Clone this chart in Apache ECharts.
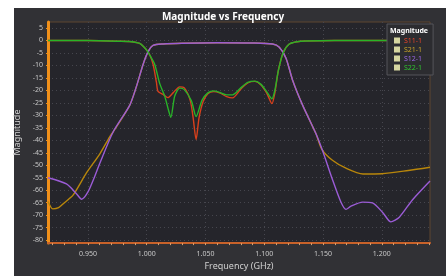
<!DOCTYPE html>
<html>
<head>
<meta charset="utf-8">
<script src="https://cdn.jsdelivr.net/npm/echarts@6/dist/echarts.min.js"></script>
<style>
  html, body { margin: 0; padding: 0; background: #fff; }
  #chart { width: 446px; height: 276px; }
</style>
</head>
<body>
<div id="chart"></div>
<script>
// tick labels
var xTicks = [0.95, 1.0, 1.05, 1.1, 1.15, 1.2];
var xMinorTicks = [0.92, 0.93, 0.94, 0.95, 0.96, 0.97, 0.98, 0.99, 1.0, 1.01, 1.02, 1.03, 1.04, 1.05, 1.06, 1.07, 1.08, 1.09, 1.1, 1.11, 1.12, 1.13, 1.14, 1.15, 1.16, 1.17, 1.18, 1.19, 1.2, 1.21, 1.22, 1.23, 1.24];
var yTicks = [5, 0, -5, -10, -15, -20, -25, -30, -35, -40, -45, -50, -55, -60, -65, -70, -75, -80];

// [frequency GHz, dB]
var s11 = [
    [0.916, 0], [0.94, 0], [0.96, -0.1], [0.975, -0.3], [0.985, -0.4], [0.99, -0.7], [0.994, -1.2],
    [0.997, -2.3], [1.0, -3.9], [1.003, -6.2], [1.0054, -9.6], [1.0082, -16.6], [1.0096, -20.4],
    [1.0139, -21.6], [1.018, -22.9], [1.0224, -21], [1.028, -18.6], [1.032, -19], [1.037, -24],
    [1.0395, -31], [1.042, -39.7], [1.0445, -31], [1.048, -24.5], [1.052, -21.3], [1.057, -20.5],
    [1.062, -21], [1.068, -22.5], [1.073, -23], [1.08, -19.5], [1.086, -17], [1.092, -16.4],
    [1.097, -17.7], [1.102, -21], [1.1065, -25.3], [1.109, -21], [1.112, -12], [1.116, -5],
    [1.121, -1.5], [1.128, -0.5], [1.135, -0.2], [1.16, 0], [1.241, 0]
];
var s21 = [
    [0.916, -64.5], [0.9202, -67.5], [0.925, -67], [0.93, -65], [0.9373, -62], [0.9487, -53.1],
    [0.96, -45.5], [0.9685, -38.6], [0.9717, -36.4], [0.9855, -26], [0.9912, -18.5], [0.9969, -9.6],
    [1.0011, -4.6], [1.0054, -2], [1.014, -1.4], [1.03, -1.1], [1.06, -0.9], [1.09, -1.0],
    [1.107, -1.4], [1.1128, -2.7], [1.1185, -7.1], [1.1241, -15.9], [1.1327, -26], [1.144, -37.4],
    [1.149, -43.6], [1.158, -48], [1.1695, -51.2], [1.184, -53.5], [1.2, -53.4], [1.2225, -52.1],
    [1.241, -50.8]
];
var s12 = [
    [0.916, -55], [0.9317, -57.5], [0.94, -61.3], [0.9446, -63.6], [0.95, -60.7], [0.9558, -54.4],
    [0.96, -49.3], [0.9717, -36.4], [0.9855, -26], [0.9912, -18.5], [0.9969, -9.6], [1.0011, -4.6],
    [1.0054, -2], [1.014, -1.4], [1.03, -1.1], [1.06, -0.9], [1.09, -1.0], [1.107, -1.4],
    [1.1128, -2.7], [1.1185, -7.1], [1.1241, -15.9], [1.1327, -26], [1.144, -37.4], [1.1497, -44.3],
    [1.158, -55.7], [1.165, -64.5], [1.1695, -67.7], [1.1738, -66.4], [1.1837, -64.8], [1.192, -65.1],
    [1.2007, -68.9], [1.2077, -72.7], [1.2149, -70.8], [1.226, -63.9], [1.241, -56.3]
];
var s22 = [
    [0.916, 0], [0.94, 0], [0.96, -0.1], [0.975, -0.3], [0.985, -0.4], [0.99, -0.7], [0.994, -1.2],
    [0.997, -2.3], [1.0, -3.9], [1.003, -6.2], [1.0068, -9.6], [1.011, -17.2], [1.0153, -22.3],
    [1.018, -27], [1.0205, -30.8], [1.0238, -22.3], [1.028, -19.1], [1.032, -19.7], [1.038, -24.2],
    [1.042, -30.5], [1.047, -24], [1.052, -21], [1.057, -20.2], [1.062, -20.8], [1.068, -21.8],
    [1.073, -21.8], [1.08, -19], [1.086, -16.8], [1.092, -16.3], [1.097, -17.5], [1.102, -20.5],
    [1.1065, -23.4], [1.109, -20], [1.112, -12], [1.116, -5], [1.121, -1.5], [1.128, -0.5],
    [1.135, -0.2], [1.16, 0], [1.241, 0]
];

var seriesNames = ['S11-1', 'S21-1', 'S12-1', 'S22-1'];
var lineColors = ['#d8401c', '#b8860b', '#9b5cd6', '#28b428'];
var textColors = ['#e8442a', '#c9a227', '#9a66e6', '#2fc42f'];
var seriesData = [s11, s21, s12, s22];

var myChart = echarts.init(document.getElementById('chart'));
var font = 'Noto Sans';

var option = {
    backgroundColor: '#fff',
    animation: false,
    textStyle: { fontFamily: font },
    graphic: [{
        type: 'rect',
        z: -10,
        shape: { x: 14, y: 8, width: 432, height: 268 },
        style: { fill: '#313135' }
    }],
    title: [{
        text: 'Magnitude vs Frequency',
        left: 'center',
        top: 7,
        textStyle: { color: '#fff', fontSize: 10, fontWeight: 'bold', fontFamily: font }
    }, {
        text: 'Magnitude',
        left: 390,
        top: 27,
        padding: 0,
        textStyle: { color: '#fff', fontSize: 7, fontWeight: 'bold', fontFamily: font }
    }],
    legend: {
        orient: 'vertical',
        left: 387,
        top: 24,
        padding: [13, 11, 4, 7],
        backgroundColor: '#2c2c30',
        borderColor: '#55555a',
        borderWidth: 1,
        itemWidth: 6,
        itemHeight: 6,
        itemGap: 2,
        icon: 'rect',
        textStyle: { fontSize: 7, padding: [0, 0, 0, -1] },
        data: seriesNames.map(function (n, i) {
            return { name: n, itemStyle: { color: '#d6d6a0' }, textStyle: { color: textColors[i] } };
        })
    },
    grid: {
        left: 48,
        top: 22,
        right: 16,
        bottom: 21,
        show: true,
        backgroundColor: '#25252b',
        borderColor: '#5e4630',
        borderWidth: 1
    },
    xAxis: [{
        type: 'value',
        min: 0.916,
        max: 1.241,
        name: 'Frequency (GHz)',
        nameLocation: 'middle',
        nameGap: 14,
        nameTextStyle: { color: '#d0d0d0', fontSize: 9 },
        axisLine: { onZero: false, lineStyle: { color: '#c8622a', width: 2 } },
        axisTick: { show: false, customValues: xTicks },
        axisLabel: {
            customValues: xTicks,
            color: '#c8c8c8',
            fontSize: 7,
            margin: 7,
            formatter: function (v) { return v.toFixed(3); }
        },
        splitLine: { show: true, lineStyle: { color: '#46464e', type: [1, 3] } }
    }, {
        type: 'value',
        min: 0.916,
        max: 1.241,
        position: 'bottom',
        axisLine: { show: false, onZero: false },
        axisTick: { show: true, customValues: xMinorTicks, length: 2, lineStyle: { color: '#d8a070' } },
        axisLabel: { show: false },
        splitLine: { show: false }
    }],
    yAxis: {
        type: 'value',
        min: -81.2,
        max: 7.4,
        name: 'Magnitude',
        nameLocation: 'middle',
        nameGap: 23,
        nameTextStyle: { color: '#d0d0d0', fontSize: 9 },
        axisLine: { show: true, onZero: false, lineStyle: { color: '#f0901a', width: 3 } },
        axisTick: { show: true, customValues: yTicks, length: 2, lineStyle: { color: '#f0901a' } },
        axisLabel: { customValues: yTicks, color: '#c8c8c8', fontSize: 7, margin: 5 },
        splitLine: { show: true, lineStyle: { color: '#46464e', type: [1, 3] } }
    },
    series: seriesNames.map(function (n, i) {
        return {
            name: n,
            type: 'line',
            xAxisIndex: 0,
            data: seriesData[i],
            smooth: 0.25,
            showSymbol: false,
            lineStyle: { color: lineColors[i], width: 1.4 },
            itemStyle: { color: lineColors[i] }
        };
    })
};
myChart.setOption(option);
</script>
</body>
</html>
